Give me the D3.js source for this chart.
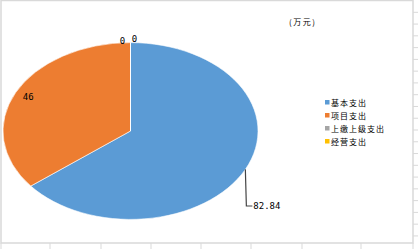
<!DOCTYPE html>
<html>
<head>
<meta charset="utf-8">
<script src="https://cdn.jsdelivr.net/npm/d3@7"></script>
<style>
  body { margin: 0; background: #fff; }
  svg { display: block; }
</style>
</head>
<body>
<div class="chart"></div>
<script>
const categories = ['基本支出', '项目支出', '上缴上级支出', '经营支出'];
const values = [82.84, 46, 0, 0];
const labels = ['82.84', '46', '0', '0'];
const colors = ['#5b9bd5', '#ed7d31', '#a5a5a5', '#ffc000'];
const unitLabel = '(万元)';

const width = 418;
const height = 249;
const cx = 130.5, cy = 131, rx = 127.5, ry = 88.4;

const svg = d3.select('.chart')
  .append('svg')
    .attr('width', width)
    .attr('height', height);

svg.append('rect')
  .attr('width', width)
  .attr('height', height)
  .attr('fill', '#fff');

// sheet-like frame + grid stubs
const frame = svg.append('g').attr('stroke', '#d9d9d9').attr('fill', 'none');
frame.append('rect')
  .attr('x', 1).attr('y', 0.5)
  .attr('width', 412).attr('height', 242.5)
  .attr('stroke-width', 1.5);

const colTicks = [1, 50, 101, 151, 201, 251, 302, 361, 413];
frame.selectAll('line.col')
  .data(colTicks)
  .enter().append('line')
    .attr('x1', d => d).attr('x2', d => d)
    .attr('y1', 243).attr('y2', 249);

const rowTicks = d3.range(20).map(i => 12.3 + i * 11.77);
frame.selectAll('line.row')
  .data(rowTicks)
  .enter().append('line')
    .attr('x1', 413).attr('x2', 418)
    .attr('y1', d => d).attr('y2', d => d);

// pie
const pie = d3.pie().sort(null).value(d => d)(values);
const arc = d3.arc().innerRadius(0).outerRadius(rx);

const g = svg.append('g')
  .attr('transform', `translate(${cx},${cy}) scale(1,${ry / rx})`);

g.selectAll('path')
  .data(pie)
  .enter().append('path')
    .attr('d', arc)
    .attr('fill', (d, i) => colors[i])
    .attr('stroke', '#fff')
    .attr('stroke-width', 0.6)
    .attr('vector-effect', 'non-scaling-stroke');

// ellipse point from angle
const pt = (a, k) => [cx + rx * k * Math.sin(a), cy - ry * k * Math.cos(a)];
const mid = d => (d.startAngle + d.endAngle) / 2;

const lab = svg.append('g')
  .attr('font-family', '"DejaVu Sans Mono", monospace')
  .attr('font-size', '9px')
  .attr('fill', '#000');

// 基本支出 label with leader
{
  const d = pie[0];
  const [x0, y0] = pt(mid(d), 1);
  const yEnd = 206;
  svg.append('path')
    .attr('d', `M${x0},${y0}L${x0 + 1},${yEnd}L${x0 + 7},${yEnd}`)
    .attr('fill', 'none')
    .attr('stroke', '#444')
    .attr('stroke-width', 1.2);
  lab.append('text')
    .attr('x', x0 + 8)
    .attr('y', yEnd + 3)
    .text(labels[0]);
}

// 项目支出 label inside
{
  const [x, y] = pt(mid(pie[1]), 0.89);
  lab.append('text')
    .attr('x', x)
    .attr('y', y + 3)
    .attr('text-anchor', 'middle')
    .text(labels[1]);
}

// zero slices at the top
[2, 3].forEach((i, j) => {
  const [x, y] = pt(mid(pie[i]), 1);
  lab.append('text')
    .attr('x', x + (j === 0 ? -8 : 4))
    .attr('y', y + (j === 0 ? 1 : -1))
    .attr('text-anchor', 'middle')
    .text(labels[i]);
});

// unit
svg.append('text')
  .attr('x', 289)
  .attr('y', 25)
  .attr('font-family', '"Noto Sans CJK SC", sans-serif')
  .attr('font-size', '8px')
  .attr('letter-spacing', '1.5px')
  .text(unitLabel);

// legend
const legend = svg.append('g')
  .attr('transform', 'translate(325,100)');

const item = legend.selectAll('g')
  .data(categories)
  .enter().append('g')
    .attr('transform', (d, i) => `translate(0,${i * 13})`);

item.append('rect')
  .attr('width', 4.5)
  .attr('height', 4.5)
  .attr('fill', (d, i) => colors[i]);

item.append('text')
  .attr('x', 6)
  .attr('y', 5.5)
  .attr('font-family', '"Noto Sans CJK SC", sans-serif')
  .attr('font-size', '8px')
  .attr('letter-spacing', '1px')
  .text(d => d);
</script>
</body>
</html>
